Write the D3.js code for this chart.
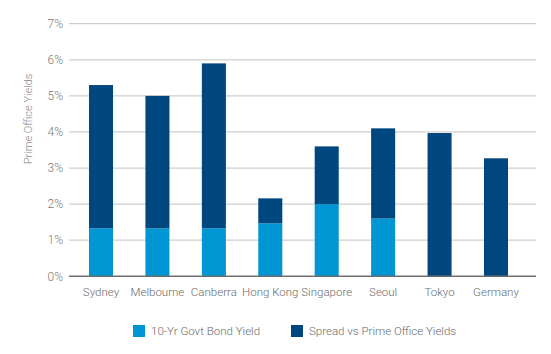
<!DOCTYPE html>
<html>
<head>
<meta charset="utf-8">
<script src="https://cdn.jsdelivr.net/npm/d3@7"></script>
<style>
  body { margin: 0; background: #fff; }
  text { font-family: Roboto, "Open Sans", sans-serif; font-weight: 300; }
</style>
</head>
<body>
<div id="chart"></div>
<script>
const cities = ["Sydney", "Melbourne", "Canberra", "Hong Kong", "Singapore", "Seoul", "Tokyo", "Germany"];
const bondYield = [1.33, 1.33, 1.33, 1.47, 2.0, 1.6, 0, 0];
const spread = [3.97, 3.67, 4.57, 0.69, 1.6, 2.5, 3.97, 3.27];
const yTicks = [0, 1, 2, 3, 4, 5, 6, 7];
const seriesNames = ["10-Yr Govt Bond Yield", "Spread vs Prime Office Yields"];
const colors = ["#0095d3", "#00467f"];

const W = 551, H = 354;
const svg = d3.select("#chart").append("svg")
    .attr("width", W)
    .attr("height", H);

// Scales
const x = d3.scaleBand()
    .domain(cities)
    .range([72.8, 524.2])
    .paddingInner(0.574)
    .paddingOuter(0.287);

const y = d3.scaleLinear()
    .domain([0, 7])
    .range([276.3, 23.7]);

// Gridlines
svg.append("g")
    .selectAll("line")
    .data(yTicks.filter(d => d > 0))
    .join("line")
    .attr("x1", 69)
    .attr("x2", 536)
    .attr("y1", d => y(d))
    .attr("y2", d => y(d))
    .attr("stroke", "#cfcfcf")
    .attr("stroke-width", 1.2);

// Y tick labels
svg.append("g")
    .selectAll("text")
    .data(yTicks)
    .join("text")
    .attr("x", 63)
    .attr("y", d => y(d))
    .attr("dy", "0.35em")
    .attr("text-anchor", "end")
    .attr("font-size", 12)
    .attr("fill", "#7a7a7a")
    .text(d => d + "%");

// Stacked bars
const rows = cities.map((c, i) => ({ city: c, bond: bondYield[i], spread: spread[i] }));
const stack = d3.stack().keys(["bond", "spread"])(rows);

svg.append("g")
    .selectAll("g")
    .data(stack)
    .join("g")
    .attr("fill", (d, i) => colors[i])
    .selectAll("rect")
    .data(d => d)
    .join("rect")
    .attr("x", d => x(d.data.city))
    .attr("width", x.bandwidth())
    .attr("y", d => y(d[1]))
    .attr("height", d => y(d[0]) - y(d[1]));

// Baseline
svg.append("line")
    .attr("x1", 69)
    .attr("x2", 536)
    .attr("y1", y(0))
    .attr("y2", y(0))
    .attr("stroke", "#6f6f6f")
    .attr("stroke-width", 1.6);

// X labels
svg.append("g")
    .selectAll("text")
    .data(cities)
    .join("text")
    .attr("x", d => x(d) + x.bandwidth() / 2)
    .attr("y", 296)
    .attr("text-anchor", "middle")
    .attr("font-size", 11.5)
    .attr("fill", "#6a6a6a")
    .text(d => d);

// Y axis title
svg.append("text")
    .attr("transform", "translate(32, 119) rotate(-90)")
    .attr("text-anchor", "middle")
    .attr("font-size", 11)
    .attr("fill", "#8a8a8a")
    .text("Prime Office Yields");

// Legend
const legendX = [133, 291];
const legend = svg.append("g")
    .selectAll("g")
    .data(seriesNames)
    .join("g")
    .attr("transform", (d, i) => `translate(${legendX[i]}, 325)`);

legend.append("rect")
    .attr("width", 12)
    .attr("height", 12)
    .attr("fill", (d, i) => colors[i]);

legend.append("text")
    .attr("x", 18)
    .attr("y", 6)
    .attr("dy", "0.35em")
    .attr("font-size", 11.5)
    .attr("fill", "#6a6a6a")
    .text(d => d);
</script>
</body>
</html>
